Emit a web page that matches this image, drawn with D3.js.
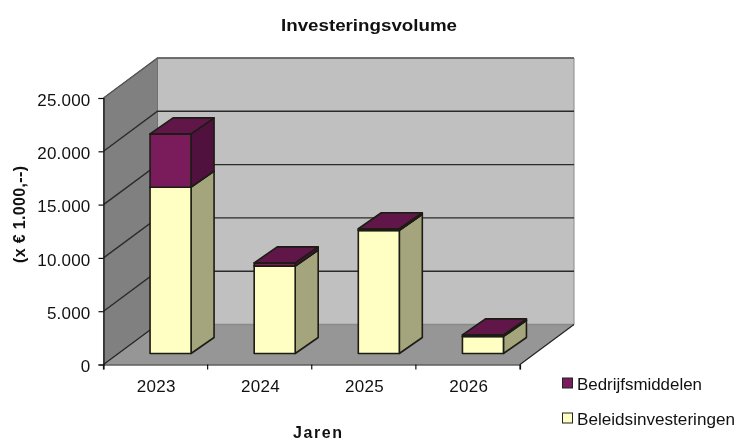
<!DOCTYPE html>
<html><head><meta charset="utf-8">
<script src="https://cdn.jsdelivr.net/npm/d3@7/dist/d3.min.js"></script>
<style>html,body{margin:0;padding:0;background:#fff}svg{display:block;filter:blur(0.35px)}text{font-family:"Liberation Sans",Arial,sans-serif;fill:#111}</style>
</head><body><div id="c"></div>
<script>
const years = ["2023","2024","2025","2026"];
const beleid = [15600,8200,11550,1600];
const bedrijf = [5000,300,150,150];
const ticks = [0,5000,10000,15000,20000,25000];
const tickLabels = ["0","5.000","10.000","15.000","20.000","25.000"];
const seriesNames = ["Bedrijfsmiddelen","Beleidsinvesteringen"];

const W=737,H=440;
const svg=d3.select("#c").append("svg").attr("width",W).attr("height",H);
const x=d3.scaleBand().domain(years).range([103.5,520]).paddingInner(0).paddingOuter(0);
const y=d3.scaleLinear().domain([0,25000]).range([364.5,98]);
const wd=[54,-40];
const bo=[15,-11], bd=[23,-16], bw=41;
const p=a=>a.map(d=>d.join(",")).join(" ");
const L=x.range()[0],R=x.range()[1],Y0=y(0),Y1=y(25000);
const g=svg.append("g");
// walls
g.append("polygon").attr("points",p([[L+wd[0],Y1+wd[1]],[R+wd[0],Y1+wd[1]],[R+wd[0],Y0+wd[1]],[L+wd[0],Y0+wd[1]]])).attr("fill","#c0c0c0").attr("stroke","#8a8a8a").attr("stroke-width",1);
g.append("polygon").attr("points",p([[L,Y1],[L+wd[0],Y1+wd[1]],[L+wd[0],Y0+wd[1]],[L,Y0]])).attr("fill","#808080").attr("stroke","#707070").attr("stroke-width",1);
g.append("polygon").attr("points",p([[L,Y0],[L+wd[0],Y0+wd[1]],[R+wd[0],Y0+wd[1]],[R,Y0]])).attr("fill","#969696");
// gridlines
ticks.forEach(t=>{
  const yy=y(t);
  const pts=p([[L,yy],[L+wd[0],yy+wd[1]],[R+wd[0],yy+wd[1]]]);
  if(t===0){
    g.append("line").attr("x1",L).attr("y1",yy).attr("x2",L+wd[0]).attr("y2",yy+wd[1]).attr("stroke","#222").attr("stroke-width",1.2);
    g.append("line").attr("x1",L+wd[0]).attr("y1",yy+wd[1]).attr("x2",R+wd[0]).attr("y2",yy+wd[1]).attr("stroke","#8a8a8a").attr("stroke-width",1.4);
    g.append("line").attr("x1",R).attr("y1",yy).attr("x2",R+wd[0]).attr("y2",yy+wd[1]).attr("stroke","#222").attr("stroke-width",1.2);
  } else {
    g.append("polyline").attr("points",pts).attr("fill","none").attr("stroke",t===25000?"#555":"#2a2a2a").attr("stroke-width",1.4);
  }
});
// bars
const C={pf:"#7a1b5c",pt:"#611649",ps:"#50113f",yf:"#ffffc4",yt:"#ccc",ys:"#a5a57d"};
function box(xl,v0,v1,f,t,s){
  const x0=xl,x1=xl+bw,yb=y(v0)+bo[1],yt=y(v1)+bo[1];
  const gs=g.append("g").attr("stroke","#1c1c14").attr("stroke-width",1.6).attr("stroke-linejoin","round");
  gs.append("polygon").attr("points",p([[x1,yb],[x1+bd[0],yb+bd[1]],[x1+bd[0],yt+bd[1]],[x1,yt]])).attr("fill",s);
  gs.append("polygon").attr("points",p([[x0,yb],[x1,yb],[x1,yt],[x0,yt]])).attr("fill",f);
  gs.append("polygon").attr("points",p([[x0,yt],[x1,yt],[x1+bd[0],yt+bd[1]],[x0+bd[0],yt+bd[1]]])).attr("fill",t);
}
years.forEach((yr,i)=>{
  const xl=x(yr)+x.bandwidth()/2+bo[0]-bw/2;
  box(xl,0,beleid[i],C.yf,C.yt,C.ys);
  box(xl,beleid[i],beleid[i]+bedrijf[i],C.pf,C.pt,C.ps);
});
// axes
const ay=svg.append("g").attr("transform",`translate(${L},0)`).call(d3.axisLeft(y).tickValues(ticks).tickFormat((d,i)=>tickLabels[i]).tickSize(5).tickPadding(8));
ay.selectAll("path,line").attr("stroke","#111").attr("stroke-width",1.2);
ay.selectAll("text").attr("font-size",17).attr("font-family",'"Liberation Sans"').attr("fill","#111").attr("dy","0.42em").attr("letter-spacing",0.2);
const ax=svg.append("g").attr("transform",`translate(0,${Y0})`).call(d3.axisBottom(x).tickSize(5).tickSizeOuter(5).tickPadding(9));
ax.selectAll(".tick line").remove();
ax.select("path").attr("stroke","#111").attr("stroke-width",1.2);
[0,1,2,3,4].forEach(i=>{
  const tx=L+i*x.bandwidth();
  ax.append("line").attr("x1",tx).attr("x2",tx).attr("y1",0).attr("y2",5).attr("stroke","#111").attr("stroke-width",1.2);
});
ax.selectAll(".tick text").attr("font-size",17).attr("font-family",'"Liberation Sans"').attr("fill","#111").attr("x",0.8).attr("y",13).attr("dy","14").attr("letter-spacing",0.3);
// titles
svg.append("text").attr("x",281).attr("y",30.5).attr("font-weight","bold").attr("font-size",17).attr("textLength",176).attr("lengthAdjust","spacingAndGlyphs").text("Investeringsvolume");
svg.append("text").attr("x",293).attr("y",438).attr("font-weight","bold").attr("font-size",16).attr("textLength",49).text("Jaren");
svg.append("text").attr("transform","translate(25,263) rotate(-90)").attr("font-weight","bold").attr("font-size",16).attr("textLength",97).text("(x € 1.000,--)");
// legend
const lc=[C.pf,C.yf], ly=[383,418], lw=[125,158];
seriesNames.forEach((n,i)=>{
  svg.append("rect").attr("x",562.5).attr("y",ly[i]-5).attr("width",10).attr("height",10).attr("fill",lc[i]).attr("stroke","#222").attr("stroke-width",1);
  svg.append("text").attr("x",577).attr("y",ly[i]+6.5).attr("font-size",17).attr("textLength",lw[i]).attr("lengthAdjust","spacingAndGlyphs").text(n);
});
</script></body></html>
